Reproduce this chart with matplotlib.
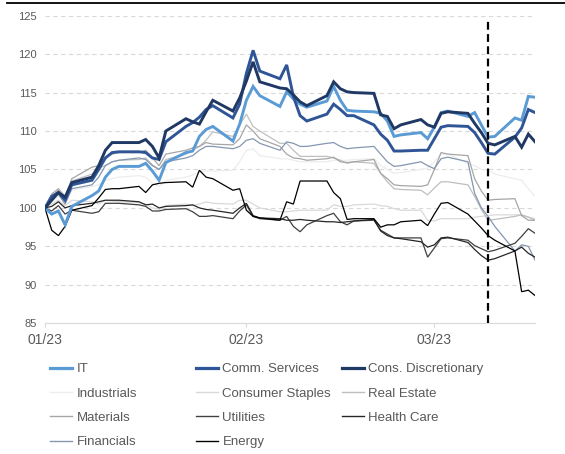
import numpy as np
import pandas as pd
import matplotlib.pyplot as plt
from matplotlib.lines import Line2D

plt.rcParams['font.family'] = ['Liberation Sans', 'DejaVu Sans']

# trading days, index = 100 at start
dates = pd.bdate_range("2023-01-02", "2023-03-16")
event_date = pd.Timestamp("2023-03-09")
tick_dates = pd.to_datetime(["2023-01-02", "2023-02-01", "2023-03-01"])
tick_labels = ["01/23", "02/23", "03/23"]

it = [100, 99.2, 99.6, 97.8, 100.2, 101.6, 102.2, 104.0, 105.0, 105.4,
      105.4, 105.8, 104.8, 103.6, 105.9, 107.2, 107.4, 109.3, 110.2, 110.6,
      108.7, 110.9, 114.0, 115.8, 114.6, 113.2, 115.1, 114.2, 113.5, 113.1,
      113.9, 115.8, 114.0, 112.7, 112.6, 112.5, 112.3, 111.3, 109.3, 109.5,
      109.8, 109.0, 110.5, 112.4, 112.6, 111.9, 112.4, 110.8, 109.2, 109.3,
      111.7, 111.4, 114.5, 114.4]
comm = [100, 101.5, 102.0, 101.0, 103.0, 103.6, 105.0, 106.5, 107.2, 107.3,
        107.3, 107.2, 106.5, 106.3, 108.6, 110.6, 111.1, 111.8, 112.8, 113.3,
        111.7, 113.5, 117.5, 120.5, 117.8, 116.8, 118.6, 114.5, 112.0, 111.3,
        112.2, 113.5, 112.8, 112.0, 112.0, 110.8, 109.6, 108.8, 107.4, 107.4,
        107.5, 107.5, 109.0, 110.5, 110.7, 110.6, 109.8, 108.5, 107.1, 107.0,
        109.2, 110.4, 112.8, 112.4]
cons_disc = [100, 101.0, 102.0, 101.4, 103.3, 104.0, 105.5, 107.5, 108.5, 108.5,
             108.5, 108.9, 108.0, 106.5, 110.0, 111.6, 111.2, 110.9, 112.5, 114.0,
             112.6, 114.3, 116.5, 119.0, 116.4, 115.6, 115.5, 114.7, 113.8, 113.3,
             114.6, 116.4, 115.5, 115.1, 115.0, 114.9, 112.1, 111.9, 110.3, 110.8,
             111.5, 110.8, 110.5, 112.3, 112.5, 112.3, 111.0, 109.8, 108.4, 108.2,
             109.3, 107.9, 109.6, 108.6]
industrials = [100, 100.8, 101.5, 100.8, 102.3, 102.8, 103.0, 103.6, 103.8, 104.0,
               104.2, 104.0, 103.2, 102.8, 103.6, 104.0, 104.3, 104.7, 104.8, 104.8,
               104.9, 106.0, 107.5, 107.7, 106.8, 106.4, 106.4, 106.2, 106.0, 106.0,
               106.0, 106.2, 106.2, 106.2, 106.3, 106.4, 105.5, 105.0, 104.5, 104.6,
               105.0, 105.2, 106.0, 107.0, 107.0, 105.8, 105.5, 105.0, 104.9, 104.4,
               103.8, 103.6, 102.5, 101.5]
staples = [100, 100.5, 101.0, 100.3, 101.0, 100.8, 100.5, 101.0, 100.9, 100.8,
           100.7, 100.5, 100.0, 99.8, 100.3, 100.5, 100.3, 100.5, 100.8, 100.6,
           100.5, 101.0, 101.0, 100.5, 100.0, 99.5, 99.5, 99.6, 99.7, 99.7,
           99.7, 100.4, 100.2, 100.2, 100.4, 100.5, 100.3, 100.2, 99.9, 99.7,
           99.7, 98.4, 98.3, 98.6, 98.6, 98.6, 98.8, 98.9, 99.0, 99.1,
           99.1, 99.1, 98.8, 98.6]
real_estate = [100, 101.5, 102.3, 101.2, 103.5, 104.4, 105.2, 105.5, 106.0, 106.2,
               106.3, 106.5, 105.6, 105.0, 106.3, 107.0, 107.5, 108.0, 108.8, 109.9,
               109.3, 110.8, 112.2, 110.6, 110.0, 108.4, 108.4, 107.5, 106.7, 106.7,
               106.7, 106.5, 106.2, 105.8, 106.0, 105.8, 104.5, 103.4, 102.5, 102.4,
               102.3, 101.7, 102.6, 103.4, 103.4, 103.0, 101.5, 99.8, 98.4, 98.5,
               98.9, 99.1, 98.8, 98.4]
materials = [100, 101.8, 102.5, 101.5, 103.8, 105.3, 105.5, 106.5, 107.0, 107.2,
             107.2, 107.5, 106.5, 105.5, 107.0, 107.5, 107.8, 108.0, 108.5, 108.3,
             108.2, 109.0, 110.8, 110.0, 109.0, 108.0, 107.0, 106.5, 106.4, 106.2,
             106.4, 106.6, 106.0, 105.9, 106.0, 106.3, 104.5, 103.8, 103.0, 102.9,
             102.8, 103.0, 105.0, 107.2, 107.0, 106.8, 103.8, 102.2, 101.0, 101.1,
             101.2, 99.0, 98.4, 98.4]
utilities = [100, 99.6, 100.3, 99.2, 99.7, 99.3, 99.5, 100.6, 100.6, 100.6,
             100.4, 100.2, 99.6, 99.6, 99.8, 99.9, 99.5, 98.9, 98.9, 99.0,
             98.6, 99.6, 100.4, 98.9, 98.6, 98.4, 98.9, 97.6, 96.9, 97.8,
             99.0, 99.3, 98.2, 97.8, 98.3, 98.4, 97.1, 96.6, 96.1, 96.1,
             96.1, 93.6, 94.8, 96.0, 96.1, 95.8, 95.1, 94.7, 94.3, 94.5,
             95.4, 96.3, 97.3, 96.7]
health_care = [100, 100.2, 100.8, 100.0, 100.3, 100.6, 100.8, 101.0, 101.0, 101.0,
               100.8, 100.4, 100.5, 100.0, 100.2, 100.3, 100.4, 100.0, 99.8, 99.7,
               99.3, 100.0, 100.6, 99.0, 98.7, 98.6, 98.4, 98.4, 98.5, 98.4,
               98.2, 98.2, 98.1, 98.2, 98.3, 98.5, 97.0, 96.4, 96.1, 96.0,
               95.6, 94.9, 95.2, 96.1, 96.2, 95.5, 94.6, 93.8, 93.2, 93.4,
               94.4, 94.9, 94.1, 93.6]
financials = [100, 101.2, 101.8, 100.5, 102.5, 103.0, 104.0, 105.5, 106.0, 106.2,
              106.5, 106.3, 105.5, 105.0, 106.0, 106.5, 106.8, 107.5, 108.0, 108.0,
              107.7, 108.0, 108.8, 109.0, 108.4, 107.5, 108.6, 108.4, 108.0, 108.0,
              108.4, 108.5, 108.0, 107.7, 107.8, 108.0, 107.0, 106.0, 105.4, 105.5,
              106.0, 105.5, 105.1, 106.4, 106.6, 106.0, 101.9, 100.0, 98.9, 97.6,
              94.4, 95.2, 95.0, 93.2]
energy = [100, 97.1, 96.4, 97.6, 99.7, 100.3, 101.3, 102.4, 102.5, 102.5,
          102.8, 102.0, 103.0, 103.2, 103.3, 103.4, 102.7, 104.9, 104.0, 103.8,
          102.3, 102.5, 99.7, 98.9, 98.7, 98.4, 100.8, 100.5, 103.5, 103.5,
          103.5, 102.0, 101.2, 98.5, 98.6, 98.6, 97.5, 97.8, 97.8, 98.2,
          98.4, 97.7, 99.2, 100.6, 100.7, 99.2, 98.3, 97.4, 96.4, 95.8,
          94.4, 89.1, 89.3, 88.6]

# label, values, colour, width (drawing order: back to front)
lines = [
    ("Industrials", industrials, "#EDEDED", 0.9),
    ("Consumer Staples", staples, "#D9D9D9", 0.9),
    ("Real Estate", real_estate, "#BFBFBF", 0.9),
    ("Materials", materials, "#A6A6A6", 0.9),
    ("Financials", financials, "#8497B0", 0.9),
    ("Utilities", utilities, "#404040", 0.9),
    ("Health Care", health_care, "#262626", 0.9),
    ("Energy", energy, "#000000", 0.9),
    ("IT", it, "#5B9BD5", 2.1),
    ("Comm. Services", comm, "#2F5597", 2.1),
    ("Cons. Discretionary", cons_disc, "#1F3864", 2.1),
]

fig = plt.figure(figsize=(5.65, 4.54), dpi=100)
ax = fig.add_axes([0.0796, 0.288, 0.8674, 0.6774])

handles = {}
for label, vals, col, lw in lines:
    h, = ax.plot(dates, vals, color=col, lw=lw, label=label, solid_joinstyle='miter')
    handles[label] = h

ax.axvline(event_date, ymin=0, ymax=0.99, color="black", lw=1.6, ls=(0, (3.5, 2)))

ax.set_ylim(85, 125)
ax.set_xlim(dates[0], dates[-1])
ax.set_yticks(range(85, 126, 5))
ax.set_xticks(tick_dates)
ax.set_xticklabels(tick_labels)
ax.yaxis.grid(True, color="#D9D9D9", lw=0.8, ls=(0, (4, 3)))
ax.set_axisbelow(True)
for s in ["left", "right", "top"]:
    ax.spines[s].set_visible(False)
ax.spines["bottom"].set_color("#D9D9D9")
ax.tick_params(axis="y", length=0, pad=6, labelsize=8, labelcolor="#595959")
ax.tick_params(axis="x", length=3, color="#D9D9D9", pad=4, labelsize=10, labelcolor="#595959")

# legend, three equal columns filled row by row
columns = [
    ["IT", "Industrials", "Materials", "Financials"],
    ["Comm. Services", "Consumer Staples", "Utilities", "Energy"],
    ["Cons. Discretionary", "Real Estate", "Health Care"],
]
col_x = [50 / 565, 196 / 565, 342 / 565]
for cx, names in zip(col_x, columns):
    hs = []
    for n in names:
        src = handles[n]
        hs.append(Line2D([], [], color=src.get_color(), lw=src.get_linewidth() * 1.1))
    fig.legend(hs, names, loc="upper left", bbox_to_anchor=(cx, 1 - 363 / 454),
               frameon=False, borderpad=0, borderaxespad=0, handlelength=1.7,
               handletextpad=0.3, labelspacing=0.92, fontsize=9.5,
               labelcolor="#595959")

fig.add_artist(Line2D([7 / 565, 1], [1 - 2.5 / 454, 1 - 2.5 / 454], color="black", lw=1.3))

fig.savefig("out.png", dpi=100)
